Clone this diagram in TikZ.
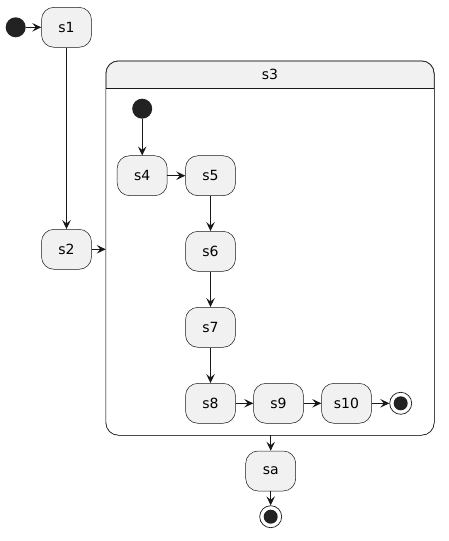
\documentclass[tikz,border=0pt]{standalone}
\usepackage{fontspec}
\setmainfont{DejaVu Sans}
\usetikzlibrary{arrows.meta}
\definecolor{boxfill}{HTML}{F1F1F1}
\definecolor{linecol}{HTML}{181818}
\definecolor{dotcol}{HTML}{222222}
\tikzset{
  statebox/.style={draw=linecol, line width=0.5pt, fill=boxfill, rounded corners=12.5pt,
    minimum width=50pt, minimum height=40pt, inner sep=0pt, font=\fontsize{14pt}{16pt}\selectfont},
  initdot/.style={circle, fill=dotcol, minimum size=20pt, inner sep=0pt},
  finalring/.style={circle, draw=linecol, line width=0.7pt, fill=white, minimum size=22pt, inner sep=0pt},
  finaldot/.style={circle, fill=dotcol, minimum size=14pt, inner sep=0pt},
  trans/.style={draw=linecol, line width=0.9pt, -{Stealth[length=9pt, width=8.5pt, inset=3.5pt]}},
}
\begin{document}
\begin{tikzpicture}[x=1pt, y=-1pt]
\useasboundingbox (0,0) rectangle (448,541);
% composite state s3
\node[draw=linecol, line width=0.5pt, fill=boxfill, rounded corners=12.5pt,
  minimum width=328pt, minimum height=374pt, inner sep=0pt] (s3) at (270,248) {};
\fill[white] (106.25,88.3) rectangle (433.75,422);
\fill[white, rounded corners=12.5pt] (106.25,400) rectangle (433.75,434.75);
\draw[linecol, line width=0.5pt, rounded corners=12.5pt] (s3.north west) rectangle (s3.south east);
\draw[linecol, line width=0.5pt] (106,88.3) -- (434,88.3);
\node[font=\fontsize{14pt}{16pt}\selectfont, inner sep=0pt] (s3title) at (270,74.5) {s3};

% outer states
\node[initdot] (init) at (15.7,27.3) {};
\node[statebox] (s1) at (66.5,27.3) {s1};
\node[statebox] (s2) at (66.5,249.3) {s2};
\node[statebox] (sa) at (270.7,471) {sa};
\node[finalring] (fin) at (270.7,516.7) {};
\node[finaldot] at (fin.center) {};

% inner states
\node[initdot] (init3) at (142.2,108.7) {};
\node[statebox] (s4) at (142.2,175.7) {s4};
\node[statebox] (s5) at (210.5,175.7) {s5};
\node[statebox] (s6) at (210.5,251.3) {s6};
\node[statebox] (s7) at (210.5,327.3) {s7};
\node[statebox] (s8) at (210.5,403.3) {s8};
\node[statebox] (s9) at (278.5,403.3) {s9};
\node[statebox] (s10) at (346.5,403.3) {s10};
\node[finalring] (fin3) at (400.7,403.3) {};
\node[finaldot] at (fin3.center) {};

% transitions
\draw[trans] (init) -- (s1);
\draw[trans] (s1) -- (s2);
\draw[trans] (s2.east) -- (s2.east -| s3.west);
\draw[trans] (init3) -- (s4);
\draw[trans] (s4) -- (s5);
\draw[trans] (s5) -- (s6);
\draw[trans] (s6) -- (s7);
\draw[trans] (s7) -- (s8);
\draw[trans] (s8) -- (s9);
\draw[trans] (s9) -- (s10);
\draw[trans] (s10) -- (fin3);
\draw[trans] (sa.north |- s3.south) -- (sa.north);
\draw[trans] (sa) -- (fin);
\end{tikzpicture}
\end{document}
